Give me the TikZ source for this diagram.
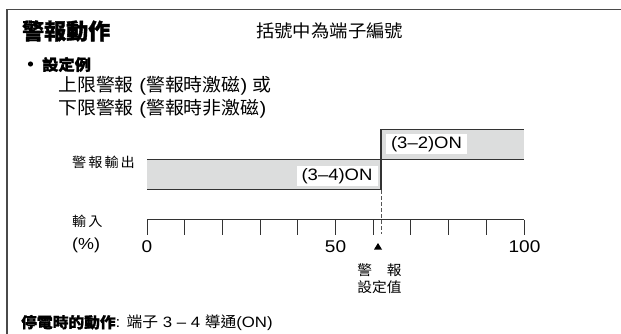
\documentclass[tikz,border=0pt]{standalone}
\usepackage{fontspec}
\setmainfont[FakeStretch=1.12]{Liberation Sans}
\newfontfamily\cjk[FakeStretch=1.05,BoldFeatures={FakeBold=1.2}]{Noto Sans CJK TC}
\newfontfamily\cjkt[BoldFeatures={FakeBold=1.5}]{Noto Sans CJK TC}
\newcommand\fs[1]{\fontsize{#1}{#1}\selectfont}
\newcommand\lat[1]{{\normalfont #1}}
\definecolor{lineC}{HTML}{333333}
\definecolor{frameC}{HTML}{4A4A4A}
\definecolor{barC}{HTML}{DCDDDD}
\definecolor{dashC}{HTML}{555555}
\tikzset{
  txt/.style={inner sep=0pt, anchor=west, text=black},
  ctxt/.style={inner sep=0pt, anchor=center, text=black},
  onbox/.style={fill=white, inner sep=0pt, minimum height=20pt, minimum width=81pt},
  chartline/.style={draw=lineC, line width=1.1pt},
  axisline/.style={draw=lineC, line width=0.9pt}
}
\begin{document}
\begin{tikzpicture}[x=1pt,y=-1pt]
\useasboundingbox (0,0) rectangle (621,334);
% frame
\draw[frameC, line width=1.7pt] (7,334) -- (7,9.5) -- (621,9.5);
% header
\node[txt] (title) at (22,31) {\cjkt\bfseries\fs{22}警報動作};
\node[txt] (note) at (256,31) {\cjk\fs{17.5}括號中為端子編號};
\fill (30.5,64) circle (2.6pt);
\node[txt] (ex) at (42,64.5) {\cjk\bfseries\fs{15.5}設定例};
\node[txt] (l1) at (58,86) {\cjk\fs{18}上限警報\lat{ (}警報時激磁\lat{) }或};
\node[txt] (l2) at (58,108.5) {\cjk\fs{18}下限警報\lat{ (}警報時非激磁\lat{)}};
% chart
\node[txt] (outlbl) at (72,162) {\cjk\fs{13.5}警\kern2pt 報\kern2pt 輸\kern2pt 出};
\fill[barC] (147,159.5) rectangle (381,189.5);
\fill[barC] (381,129.5) rectangle (524,159.5);
\draw[chartline] (147,159.5) -- (524,159.5);
\draw[chartline] (147,189.5) -- (381,189.5) -- (381,129.5) -- (524,129.5);
\node[onbox] (on34) at (337,176) {\fs{16.5}(3–4)ON};
\node[onbox] (on32) at (426.5,144.5) {\fs{16.5}(3–2)ON};
\draw[dashC, line width=0.9pt, dash pattern=on 3.5pt off 2.5pt] (381,190) -- (381,234);
% axis
\node[txt] (inlbl) at (72,221) {\cjk\fs{13.5}輸\kern2pt 入};
\node[txt] (pct) at (72,245) {\fs{16}(\%)};
\draw[axisline] (147,219.5) -- (524,219.5);
\foreach \i in {0,...,10} {
  \draw[axisline] ({147+37.7*\i},219.5) -- ({147+37.7*\i},234.5);
}
\node[ctxt] (t0) at (147,247) {\fs{17}0};
\node[ctxt] (t50) at (335.5,247) {\fs{17}50};
\node[ctxt] (t100) at (524.5,247) {\fs{17}100};
\fill[black] (374,249.5) -- (382,249.5) -- (378,243) -- cycle;
\node[ctxt] (sv1) at (379.5,270) {\cjk\fs{14}警　報};
\node[ctxt] (sv2) at (379.5,287) {\cjk\fs{14}設定值};
% footer
\node[txt] (foot) at (21,323) {\cjk\fs{15}{\bfseries 停電時的動作}\lat{: }端子\lat{ 3 – 4 }導通\lat{(ON)}};
\end{tikzpicture}
\end{document}
